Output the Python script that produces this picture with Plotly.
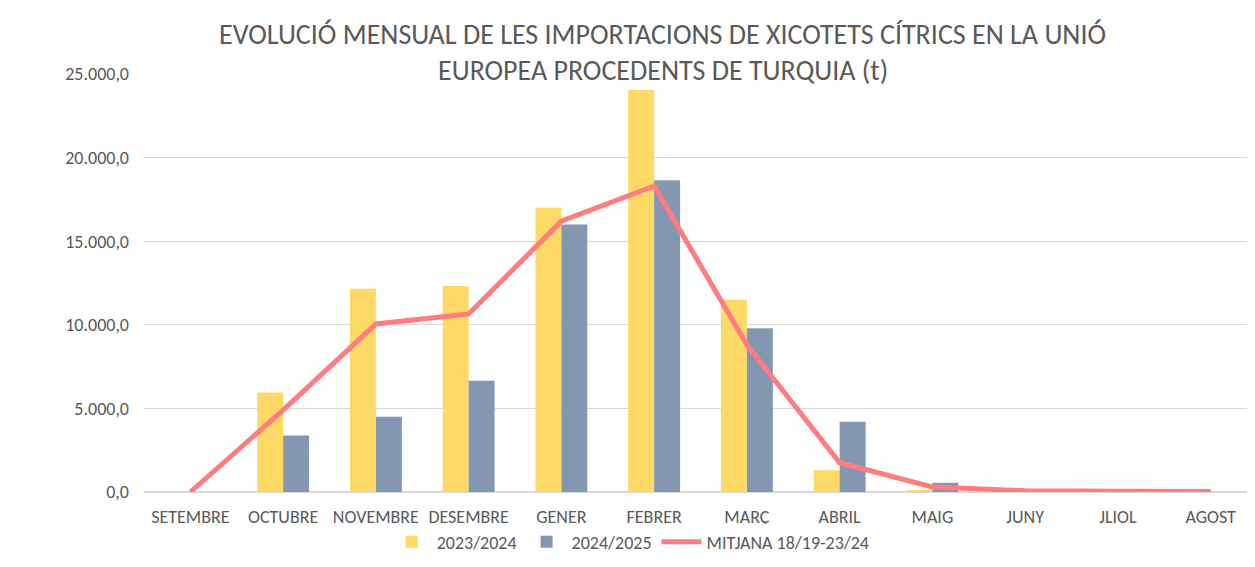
import plotly.graph_objects as go

months = ["SETEMBRE", "OCTUBRE", "NOVEMBRE", "DESEMBRE", "GENER", "FEBRER",
          "MARÇ", "ABRIL", "MAIG", "JUNY", "JLIOL", "AGOST"]
season_2324 = [None, 5950, 12150, 12320, 17000, 24050, 11500, 1300, 100, None, None, None]
season_2425 = [None, 3380, 4500, 6650, 16000, 18650, 9800, 4200, 550, None, None, None]
avg_1819_2324 = [0, 4900, 10050, 10650, 16200, 18300, 8800, 1750, 300, 80, 50, 30]

FONT = "Carlito, Calibri, 'Open Sans', sans-serif"
GREY = "#595959"

fig = go.Figure()
fig.add_trace(go.Bar(x=months, y=season_2324, name="2023/2024",
                     marker=dict(color="#FFD966", line=dict(width=0))))
fig.add_trace(go.Bar(x=months, y=season_2425, name="2024/2025",
                     marker=dict(color="#8497B0", line=dict(width=0))))
fig.add_trace(go.Scatter(x=months, y=avg_1819_2324, name="MITJANA 18/19-23/24",
                         mode="lines", line=dict(color="#FF7C80", width=5)))

# the page body has an 8px margin, so the figure is offset by 8px
fig.update_layout(
    width=1255, height=567,
    margin=dict(l=136, r=6, t=66, b=83, autoexpand=False),
    paper_bgcolor="white", plot_bgcolor="white",
    font=dict(family=FONT, size=18, color=GREY),
    separators=",.",
    barmode="group", bargap=0.44, bargroupgap=0,
    showlegend=True,
    legend=dict(orientation="h", x=0.218, xanchor="left",
                yref="container", y=0.058, yanchor="middle",
                font=dict(size=18, color=GREY), itemwidth=40,
                traceorder="normal"),
    xaxis=dict(showgrid=False, showline=False, ticks="", automargin=False,
               tickfont=dict(size=18), ticklabelstandoff=12),
    yaxis=dict(range=[0, 25000], dtick=5000, tickformat=",.1f", automargin=False,
               gridcolor="#D9D9D9", gridwidth=1, zeroline=True,
               zerolinecolor="#D9D9D9", zerolinewidth=1.5,
               showline=False, ticks="", ticklabelstandoff=14, tickfont=dict(size=18)),
    shapes=[dict(type="rect", xref="paper", yref="paper",
                 x0=-0.124, x1=1.05, y0=-0.7, y1=1.1627,
                 line=dict(color="#D9D9D9", width=1.5), layer="below")],
)

fig.add_annotation(text="EVOLUCIÓ MENSUAL DE LES IMPORTACIONS DE XICOTETS CÍTRICS EN LA UNIÓ",
                   xref="paper", yref="paper", x=0.466, y=1.095, showarrow=False,
                   xanchor="center", yanchor="middle",
                   font=dict(family=FONT, size=28, color=GREY))
fig.add_annotation(text="EUROPEA PROCEDENTS DE TURQUIA (t)",
                   xref="paper", yref="paper", x=0.466, y=1.009, showarrow=False,
                   xanchor="center", yanchor="middle",
                   font=dict(family=FONT, size=28, color=GREY))

fig.write_html("out.html")
